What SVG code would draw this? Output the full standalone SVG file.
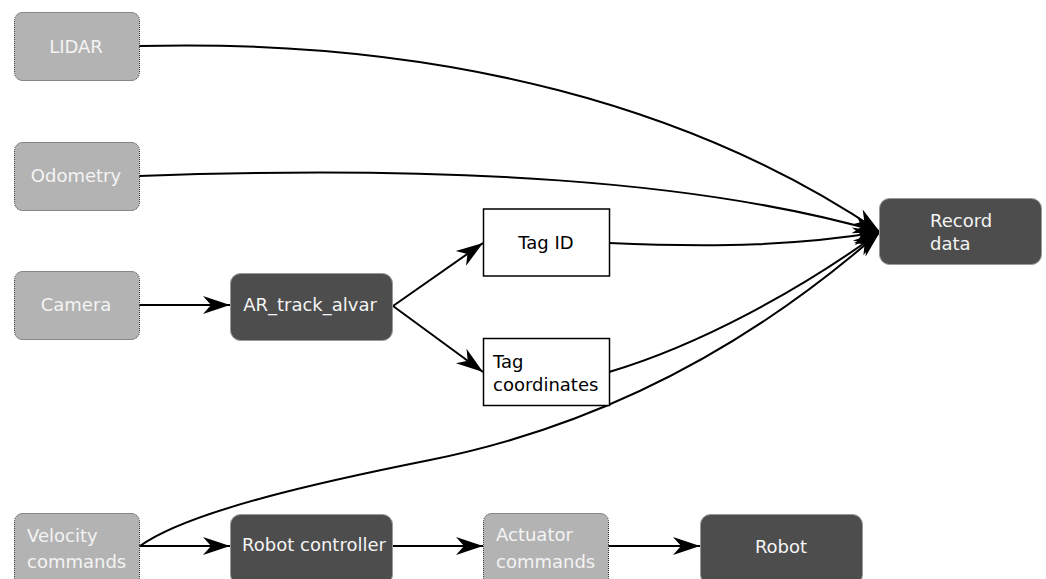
<svg xmlns="http://www.w3.org/2000/svg" width="1046" height="579" viewBox="0 0 1046 579">
<style>
.src{fill:#b3b3b3;stroke:#333;stroke-width:1;stroke-dasharray:1,1}
.proc{fill:#4d4d4d;stroke:#999;stroke-width:1}
.box{fill:#fff;stroke:#000;stroke-width:1.5}
text{font-family:"DejaVu Sans",sans-serif;font-size:18px}
.lt{fill:#f4f4f4}
.dk{fill:#000}
.c{text-anchor:middle}
.edge{fill:none;stroke:#000;stroke-width:2}
</style>
<defs>
<marker id="arr" markerUnits="userSpaceOnUse" viewBox="-28 -10 30 20" refX="0" refY="0" markerWidth="30" markerHeight="20" orient="auto" overflow="visible">
<path d="M0,0 L-27,-9 L-19,0 L-27,9 Z" fill="#000"/>
</marker>
</defs>
<g id="connectors">
<path class="edge" d="M139,46 C450,38 700,110 880,232" marker-end="url(#arr)"/>
<path class="edge" d="M139,176 C450,165 700,180 880,232" marker-end="url(#arr)"/>
<path class="edge" d="M609,243 C720,248 800,245 880,232" marker-end="url(#arr)"/>
<path class="edge" d="M609,372 C700,345 800,290 880,232" marker-end="url(#arr)"/>
<path class="edge" d="M140,546 C190,510 330,480 430,460 S700,390 880,232" marker-end="url(#arr)"/>
<path class="edge" d="M139,305 L230,305" marker-end="url(#arr)"/>
<path class="edge" d="M393,306 L483,243" marker-end="url(#arr)"/>
<path class="edge" d="M393,306 L483,372" marker-end="url(#arr)"/>
<path class="edge" d="M139,546 L230,546" marker-end="url(#arr)"/>
<path class="edge" d="M392,546 L483,546" marker-end="url(#arr)"/>
<path class="edge" d="M608,546 L700,546" marker-end="url(#arr)"/>
</g>
<g id="lidar"><rect class="src" x="14.5" y="12.5" width="125" height="68" rx="8"/><text class="lt c" x="76" y="53">LIDAR</text></g>
<g id="odometry"><rect class="src" x="14.5" y="142.5" width="125" height="68" rx="8"/><text class="lt c" x="76" y="182">Odometry</text></g>
<g id="camera"><rect class="src" x="14.5" y="271.5" width="125" height="68" rx="8"/><text class="lt c" x="76" y="311">Camera</text></g>
<g id="velocity"><rect class="src" x="14.5" y="513.5" width="125" height="72" rx="8"/><text class="lt" x="27" y="542">Velocity</text><text class="lt" x="27" y="568">commands</text></g>
<g id="ar_track_alvar"><rect class="proc" x="230.5" y="273.5" width="162" height="67" rx="10"/><text class="lt c" x="310" y="311">AR_track_alvar</text></g>
<g id="tag_id"><rect class="box" x="483.5" y="209" width="126" height="67"/><text class="dk c" x="546" y="249">Tag ID</text></g>
<g id="tag_coordinates"><rect class="box" x="483.5" y="338.5" width="126" height="67"/><text class="dk" x="493" y="368">Tag</text><text class="dk" x="493" y="391">coordinates</text></g>
<g id="record_data"><rect class="proc" x="879.5" y="198.5" width="162" height="66" rx="10"/><text class="lt" x="930" y="227">Record</text><text class="lt" x="930" y="250">data</text></g>
<g id="robot_controller"><rect class="proc" x="230.5" y="514.5" width="162" height="70" rx="10"/><text class="lt c" x="314" y="551">Robot controller</text></g>
<g id="actuator"><rect class="src" x="483.5" y="513.5" width="125" height="72" rx="8"/><text class="lt" x="496" y="541">Actuator</text><text class="lt" x="496" y="568">commands</text></g>
<g id="robot"><rect class="proc" x="700.5" y="514.5" width="162" height="70" rx="10"/><text class="lt c" x="781" y="553">Robot</text></g>
</svg>
